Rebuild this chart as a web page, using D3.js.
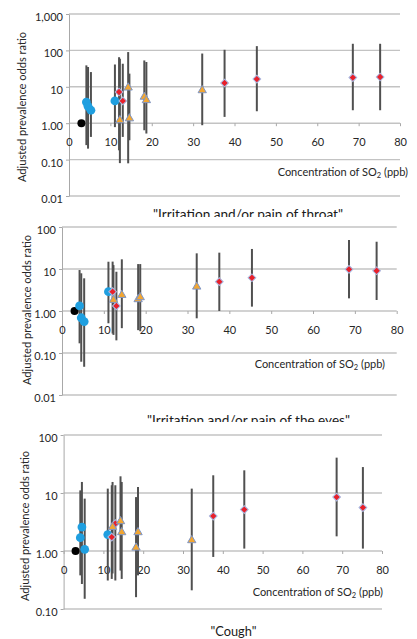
<!DOCTYPE html>
<html>
<head>
<meta charset="utf-8">
<script src="https://cdn.jsdelivr.net/npm/d3@7"></script>
<style>
  body { margin: 0; background: #fff; }
  text { font-family: Lato, "Open Sans", sans-serif; }
</style>
</head>
<body>
<div id="chart"></div>
<script>
// concentration of SO2 (ppb) for each series
var blackX = [3.0];
var blueX = [4.2, 4.6, 5.3, 11.1];
var redX = [12.1, 13.0, 37.6, 45.4, 68.6, 75.2];
var orangeX = [12.3, 14.3, 14.6, 18.2, 18.7, 32.2];
var blackOR = [1.0];

var xTicks = [0, 10, 20, 30, 40, 50, 60, 70, 80];

// "Irritation and/or pain of throat"
var throatBlue = [3.8, 2.9, 2.27, 4.1];
var throatBlueLo = [0.25, 0.20, 0.42, 0.78];
var throatBlueHi = [38.8, 35, 25.4, 41];
var throatRed = [7.2, 4.1, 12.7, 16.3, 17.9, 18.6];
var throatRedLo = [0.18, 0.42, 1.49, 2.13, 2.27, 2.27];
var throatRedHi = [65, 43, 104, 131, 152, 152];
var throatOrange = [1.2, 9.5, 1.35, 5.3, 4.27, 8.0];
var throatOrangeLo = [0.08, 0.079, 0.34, 0.64, 0.52, 0.88];
var throatOrangeHi = [59, 90, 23, 53, 48, 82];

// "Irritation and/or pain of the eyes"
var eyesBlue = [1.32, 0.69, 0.56, 2.88];
var eyesBlueLo = [0.17, 0.062, 0.047, 0.51];
var eyesBlueHi = [9.45, 7.9, 6.0, 14.9];
var eyesRed = [2.88, 1.32, 5.0, 6.2, 9.8, 9.1];
var eyesRedLo = [0.29, 0.2, 1.0, 1.27, 2.0, 1.83];
var eyesRedHi = [15, 8.6, 24.5, 30, 49, 44.6];
var eyesOrange = [1.83, 2.4, null, 1.9, 2.12, 3.79];
var eyesOrangeLo = [0.27, 0.39, null, 0.35, 0.33, 0.67];
var eyesOrangeHi = [12.4, 17, null, 13.1, 13.1, 23.6];

// "Cough"
var coughBlue = [1.70, 2.59, 1.07, 1.92];
var coughBlueLo = [0.38, 0.27, 0.15, 0.31];
var coughBlueHi = [11.1, 15.5, 8.0, 11.9];
var coughRed = [1.74, 2.97, 4.0, 5.17, 8.5, 5.6];
var coughRedLo = [0.33, 0.31, 0.79, 1.1, 1.79, 1.1];
var coughRedHi = [13.6, 13.6, 20.2, 24.6, 40.7, 28];
var coughOrange = [2.59, 3.25, 2.10, 1.14, 2.10, 1.53];
var coughOrangeLo = [0.41, 0.46, 0.33, 0.16, 0.38, 0.21];
var coughOrangeHi = [15.5, 19.4, 15.5, 8.5, 12.7, 11.9];

var svgWidth = 417;
var svgHeight = 639;

var svg = d3.select("#chart")
  .append("svg")
  .attr("width", svgWidth)
  .attr("height", svgHeight);

var panels = [
  {
    title: '"Irritation and/or pain of throat"',
    top: 0, bottom: 217,
    xRange: [69, 400], yDomain: [0.01, 1000], yRange: [196, 14],
    yTicks: [1000, 100, 10, 1, 0.1, 0.01],
    titleX: 248, titleY: 219, titleLen: 190,
    soX: 408, soY: 176, ylabX: 22, ylabY: 107,
    blue: [throatBlue, throatBlueLo, throatBlueHi],
    red: [throatRed, throatRedLo, throatRedHi],
    orange: [throatOrange, throatOrangeLo, throatOrangeHi]
  },
  {
    title: '"Irritation and/or pain of the eyes"',
    top: 217, bottom: 422,
    xRange: [62, 396.7], yDomain: [0.01, 100], yRange: [395, 227],
    yTicks: [100, 10, 1, 0.1, 0.01],
    titleX: 248.5, titleY: 425, titleLen: 203,
    soX: 385, soY: 368, ylabX: 27, ylabY: 310,
    blue: [eyesBlue, eyesBlueLo, eyesBlueHi],
    red: [eyesRed, eyesRedLo, eyesRedHi],
    orange: [eyesOrange, eyesOrangeLo, eyesOrangeHi]
  },
  {
    title: '"Cough"',
    top: 422, bottom: 639,
    xRange: [63.6, 382], yDomain: [0.1, 100], yRange: [609, 435],
    yTicks: [100, 10, 1, 0.1],
    titleX: 233.5, titleY: 635.5, titleLen: 46,
    soX: 383, soY: 595.5, ylabX: 25, ylabY: 526,
    blue: [coughBlue, coughBlueLo, coughBlueHi],
    red: [coughRed, coughRedLo, coughRedHi],
    orange: [coughOrange, coughOrangeLo, coughOrangeHi]
  }
];

function fmtY(d) {
  if (d === 1000) return "1,000";
  if (d >= 10) return String(d);
  return d.toFixed(2);
}

// turn the arrays of one series into point objects
function toPoints(xs, vals) {
  var pts = [];
  xs.forEach(function(x, i) {
    if (vals[0][i] == null) return;
    pts.push({ x: x, y: vals[0][i], lo: vals[1][i], hi: vals[2][i] });
  });
  return pts;
}

panels.forEach(function(p) {
  var g = svg.append("g");

  // white background, this also cuts off the title of the panel above
  g.append("rect")
    .attr("x", 0)
    .attr("y", p.top)
    .attr("width", svgWidth)
    .attr("height", p.bottom - p.top)
    .attr("fill", "#fff");

  var xScale = d3.scaleLinear().domain([0, 80]).range(p.xRange);
  var yScale = d3.scaleLog().domain(p.yDomain).range(p.yRange);
  var x0 = p.xRange[0];

  // gridlines
  g.selectAll(".grid")
    .data(p.yTicks)
    .enter()
    .append("line")
    .attr("x1", x0)
    .attr("x2", p.xRange[1])
    .attr("y1", d => yScale(d))
    .attr("y2", d => yScale(d))
    .attr("stroke", "#c3c3c3")
    .attr("stroke-width", 1.4);

  // y axis
  var yAxis = g.append("g")
    .attr("transform", `translate(${x0}, 0)`)
    .call(d3.axisLeft(yScale).tickValues(p.yTicks).tickFormat(fmtY).tickSize(3).tickSizeOuter(0).tickPadding(3));
  yAxis.select(".domain").attr("stroke", "#a8a8a8");
  yAxis.selectAll(".tick line").attr("stroke", "#a8a8a8");
  yAxis.selectAll("text")
    .attr("y", 3)
    .attr("fill", "#262626")
    .style("font-size", "11px")
    .style("font-family", "Lato, sans-serif");

  // x axis sits on the 1.00 line
  var xAxis = g.append("g")
    .attr("transform", `translate(0, ${yScale(1)})`)
    .call(d3.axisBottom(xScale).tickValues(xTicks).tickSize(3).tickSizeOuter(0).tickPadding(12));
  xAxis.select(".domain").remove();
  xAxis.selectAll(".tick line").attr("stroke", "#a8a8a8");
  xAxis.selectAll("text")
    .attr("fill", "#262626")
    .style("font-size", "11px")
    .style("font-family", "Lato, sans-serif");

  var blackPts = toPoints(blackX, [blackOR, blackOR, blackOR]);
  var bluePts = toPoints(blueX, p.blue);
  var redPts = toPoints(redX, p.red);
  var orangePts = toPoints(orangeX, p.orange);
  var allPts = bluePts.concat(redPts, orangePts);

  // error bars
  g.selectAll(".err")
    .data(allPts)
    .enter()
    .append("line")
    .attr("x1", d => xScale(d.x))
    .attr("x2", d => xScale(d.x))
    .attr("y1", d => yScale(d.lo))
    .attr("y2", d => yScale(d.hi))
    .attr("stroke", "#505050")
    .attr("stroke-width", 2);

  // markers
  g.selectAll(".blk")
    .data(blackPts)
    .enter()
    .append("circle")
    .attr("cx", d => xScale(d.x))
    .attr("cy", d => yScale(d.y))
    .attr("r", 4)
    .attr("fill", "#000");

  g.selectAll(".blue")
    .data(bluePts)
    .enter()
    .append("circle")
    .attr("cx", d => xScale(d.x))
    .attr("cy", d => yScale(d.y))
    .attr("r", 4.4)
    .attr("fill", "#1f9fe0");

  g.selectAll(".red")
    .data(redPts)
    .enter()
    .append("path")
    .attr("d", d3.symbol(d3.symbolSquare).size(30))
    .attr("transform", d => `translate(${xScale(d.x)}, ${yScale(d.y)}) rotate(45)`)
    .attr("fill", "#e8202a")
    .attr("stroke", "#a9b9e2")
    .attr("stroke-width", 1);

  g.selectAll(".orange")
    .data(orangePts)
    .enter()
    .append("path")
    .attr("d", d3.symbol(d3.symbolTriangle).size(30))
    .attr("transform", d => `translate(${xScale(d.x)}, ${yScale(d.y)})`)
    .attr("fill", "#f2a632")
    .attr("stroke", "#7f96c6")
    .attr("stroke-width", 1);

  // axis titles
  var so = g.append("text")
    .attr("x", p.soX)
    .attr("y", p.soY)
    .attr("text-anchor", "end")
    .attr("fill", "#262626")
    .style("font-size", "11px");
  so.append("tspan").text("Concentration of SO");
  so.append("tspan").attr("dy", 2).style("font-size", "7.5px").text("2");
  so.append("tspan").attr("dy", -2).text(" (ppb)");

  g.append("text")
    .attr("transform", `translate(${p.ylabX}, ${p.ylabY}) rotate(-90)`)
    .attr("text-anchor", "middle")
    .attr("dy", "0.35em")
    .attr("textLength", 150)
    .attr("lengthAdjust", "spacingAndGlyphs")
    .attr("fill", "#262626")
    .style("font-size", "10.5px")
    .text("Adjusted prevalence odds ratio");

  // panel title
  g.append("text")
    .attr("x", p.titleX)
    .attr("y", p.titleY)
    .attr("text-anchor", "middle")
    .attr("textLength", p.titleLen)
    .attr("lengthAdjust", "spacingAndGlyphs")
    .attr("fill", "#1a1a1a")
    .style("font-size", "13.5px")
    .text(p.title);
});
</script>
</body>
</html>
